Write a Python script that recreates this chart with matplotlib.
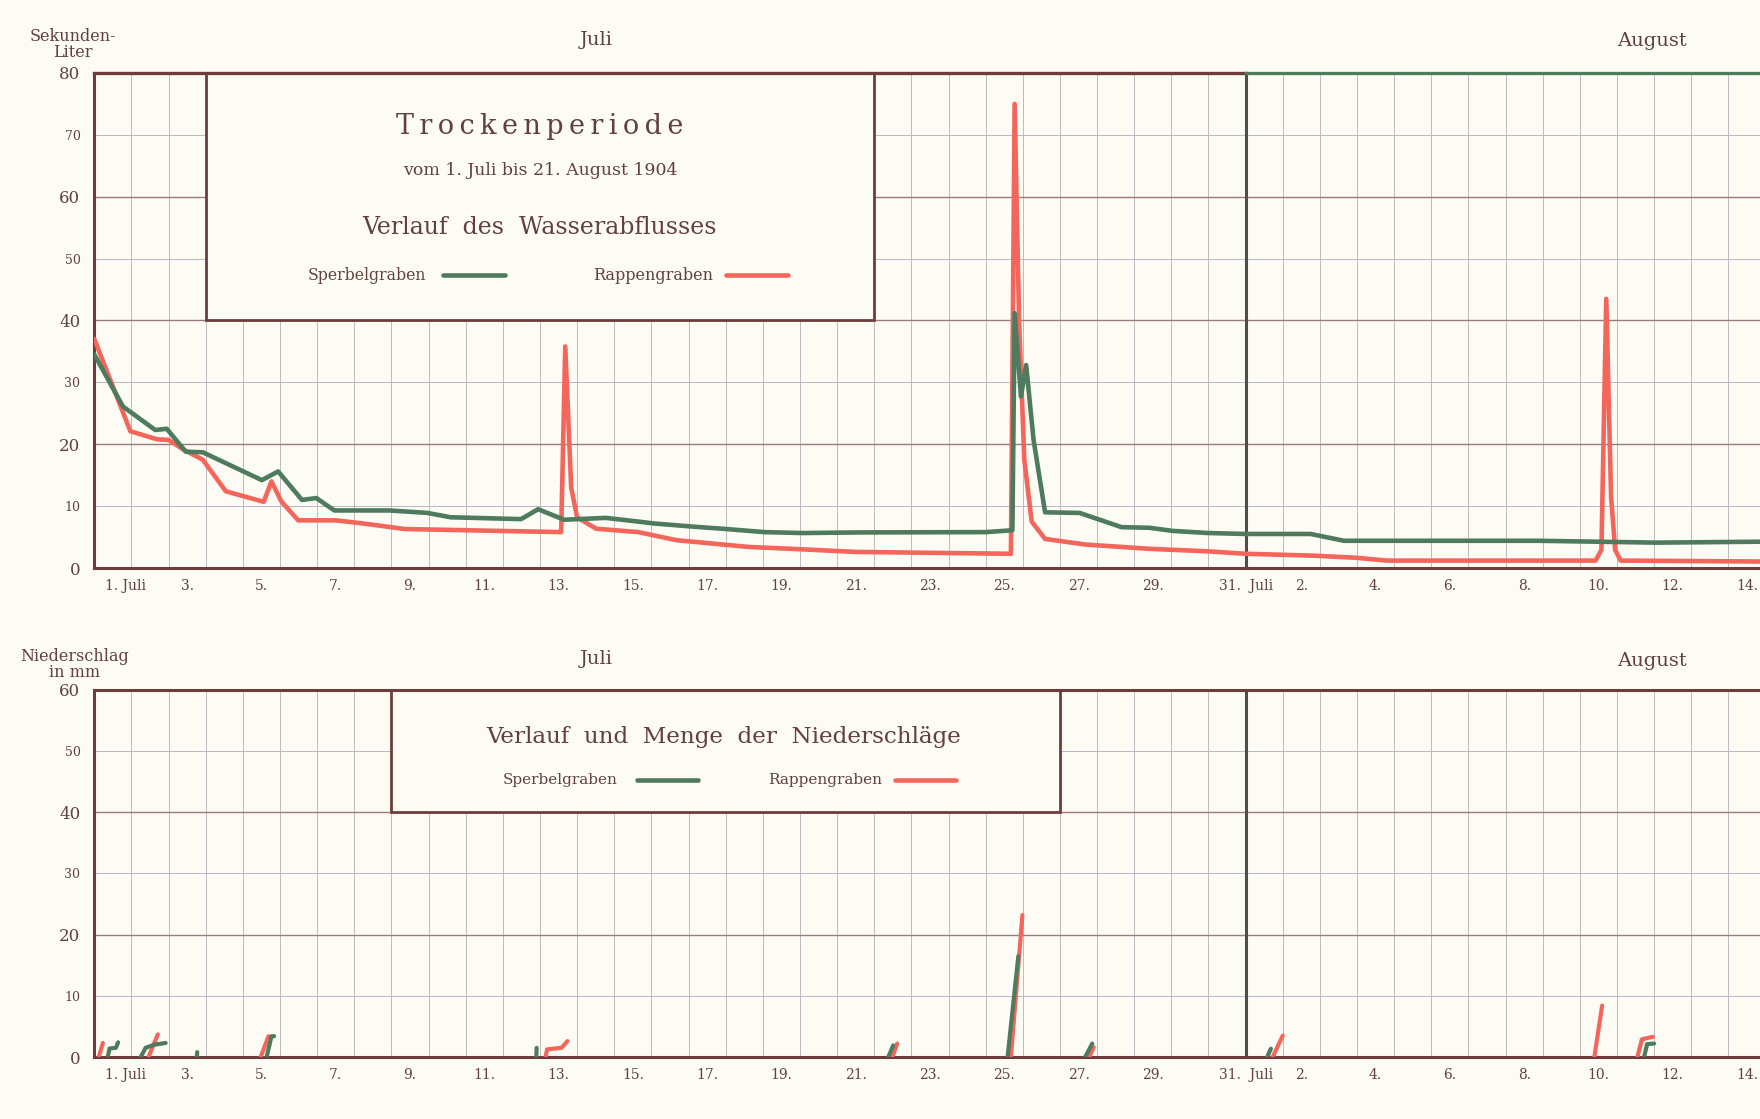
import matplotlib.pyplot as plt
from matplotlib.patches import Rectangle

# x = Tage seit 1. Juli 0 Uhr (31 = 1. August 0 Uhr)
sperbel_abfluss_tag = [0.0, 0.77, 1.64, 1.95, 2.46, 2.92, 4.51, 4.95, 5.59, 5.98, 6.46,
                       7.95, 8.97, 9.59, 11.49, 11.95, 12.65, 13.77, 14.65, 15.06, 16.09,
                       17.01, 18.04, 19.07, 20.61, 24.01, 24.72, 24.78, 24.95, 25.09,
                       25.29, 25.6, 26.53, 27.66, 28.41, 29.03, 29.97, 31.0, 32.75, 33.65,
                       38.9, 42.05, 44.85]
sperbel_abfluss_wert = [34.5, 26.1, 22.3, 22.5, 18.8, 18.7, 14.2, 15.6, 11.0, 11.3, 9.3,
                        9.3, 8.9, 8.2, 7.9, 9.5, 7.8, 8.1, 7.5, 7.2, 6.7,
                        6.3, 5.8, 5.65, 5.75, 5.8, 6.1, 41.2, 27.7, 32.8,
                        20.7, 9.0, 8.9, 6.6, 6.5, 6.0, 5.66, 5.5, 5.5, 4.4,
                        4.4, 4.1, 4.25]

rappen_abfluss_tag = [0.0, 0.97, 1.69, 2.0, 2.41, 2.92, 3.54, 4.56, 4.77, 5.03, 5.49,
                      6.51, 7.23, 8.36, 12.57, 12.68, 12.84, 13.0, 13.51, 14.65, 15.67,
                      17.63, 18.76, 20.51, 24.68, 24.78, 24.9, 25.04, 25.24, 25.6, 26.68,
                      28.41, 29.97, 31.0, 32.8, 33.96, 34.8, 40.42, 40.58, 40.71, 40.84,
                      40.95, 41.1, 44.85]
rappen_abfluss_wert = [37.0, 22.1, 20.8, 20.7, 19.1, 17.5, 12.4, 10.7, 14.0, 10.8, 7.7,
                       7.7, 7.2, 6.3, 5.8, 35.8, 13.0, 8.2, 6.35, 5.8, 4.5,
                       3.4, 3.1, 2.6, 2.3, 75.0, 40.0, 17.5, 7.5, 4.7, 3.8,
                       3.1, 2.7, 2.3, 2.0, 1.66, 1.2, 1.2, 2.9, 43.5, 11.5,
                       2.9, 1.2, 1.05]

# Niederschlag in mm, je Ereignis eine kurze Summenlinie
sperbel_regen_tag = [[0.36, 0.41, 0.58, 0.64], [1.25, 1.38, 1.61, 1.92], [2.76, 2.77],
                     [4.64, 4.77, 4.84], [11.9, 11.91], [21.38, 21.51], [24.59, 24.88],
                     [26.68, 26.87], [31.58, 31.68], [41.73, 41.81, 42.0]]
sperbel_regen_mm = [[0, 1.4, 1.5, 2.4], [0, 1.5, 2.0, 2.3], [0, 0.8],
                    [0, 3.4, 3.4], [0, 1.5], [0, 1.9], [0, 16.5],
                    [0, 2.2], [0, 1.35], [0, 2.1, 2.2]]
rappen_regen_tag = [[0.12, 0.23], [1.46, 1.71], [4.48, 4.69], [12.15, 12.19, 12.58, 12.74],
                    [21.49, 21.62], [24.68, 24.99], [26.79, 26.91], [31.73, 32.0],
                    [40.39, 40.6], [41.55, 41.67, 41.97]]
rappen_regen_mm = [[0, 2.3], [0, 3.7], [0, 3.4], [0, 1.25, 1.5, 2.6],
                   [0, 2.2], [0, 23.2], [0, 1.6], [0, 3.5],
                   [0, 8.4], [0, 2.9, 3.3]]

tag_pos = [0.85, 2.5, 4.5, 6.5, 8.5, 10.5, 12.5, 14.5, 16.5, 18.5, 20.5, 22.5, 24.5,
           26.5, 28.5, 31.0, 32.5, 34.5, 36.5, 38.5, 40.5, 42.5, 44.5]
tag_labels = ["1. Juli", "3.", "5.", "7.", "9.", "11.", "13.", "15.", "17.", "19.",
              "21.", "23.", "25.", "27.", "29.", "31.  Juli", "2.", "4.", "6.", "8.",
              "10.", "12.", "14."]

bg = "#fdfcf4"
braun = "#6e3c3c"
text_col = "#633f3f"
gruen = "#4e7a5e"
rot = "#f4655c"
grid_col = "#bcb4bf"
serif = ["DejaVu Serif"]

plt.rcParams["font.family"] = serif

fig = plt.figure(figsize=(17.6, 11.19), dpi=100, facecolor=bg)
ax1 = fig.add_axes([0.0536, 0.4924, 0.9464, 0.4424])
ax2 = fig.add_axes([0.0536, 0.0554, 0.9464, 0.3280])


def style_axis(ax, ymax):
    ax.set_facecolor(bg)
    ax.set_xlim(0, 44.85)
    ax.set_ylim(0, ymax)
    for k in range(1, 45):
        ax.axvline(k, color=grid_col, lw=0.65, zorder=1)
    for v in range(10, ymax, 10):
        if v % 20 == 0:
            ax.axhline(v, color="#9a7a7a", lw=1.0, zorder=1)
        else:
            ax.axhline(v, color="#b9b5c8", lw=0.7, zorder=1)
    ax.axvline(31, color="#4c4f46", lw=2.2, zorder=2)
    for s in ["left", "bottom", "top"]:
        ax.spines[s].set_color(braun)
        ax.spines[s].set_linewidth(2.2)
    ax.spines["right"].set_visible(False)
    ax.set_xticks(tag_pos, tag_labels)
    ax.tick_params(axis="x", length=0, pad=8, labelsize=10, labelcolor=text_col)
    ticks = list(range(0, ymax + 1, 10))
    ax.set_yticks(ticks, [str(t) for t in ticks])
    ax.tick_params(axis="y", length=0, pad=10, labelcolor=text_col)
    for t, lab in zip(ticks, ax.get_yticklabels()):
        lab.set_fontsize(12 if t % 20 == 0 else 9)


style_axis(ax1, 80)
style_axis(ax2, 60)
ax1.spines["top"].set_visible(False)
ax1.plot([0, 31], [80, 80], color=braun, lw=2.4, zorder=5, clip_on=False)
ax1.plot([31, 44.85], [80, 80], color=gruen, lw=2.4, zorder=5, clip_on=False)

# Abfluss
ax1.plot(sperbel_abfluss_tag, sperbel_abfluss_wert, color=gruen, lw=3.3, zorder=4,
         solid_joinstyle="round", solid_capstyle="round")
ax1.plot(rappen_abfluss_tag, rappen_abfluss_wert, color=rot, lw=3.3, zorder=3,
         solid_joinstyle="round", solid_capstyle="round")

# Niederschlag
for t, v in zip(rappen_regen_tag, rappen_regen_mm):
    ax2.plot(t, v, color=rot, lw=3.0, zorder=3, solid_capstyle="round")
for t, v in zip(sperbel_regen_tag, sperbel_regen_mm):
    ax2.plot(t, v, color=gruen, lw=3.0, zorder=4, solid_capstyle="round")

# Titelkasten oben
ax1.add_patch(Rectangle((3, 40), 18, 40, facecolor=bg, edgecolor=braun, lw=2.0, zorder=2.5))
ax1.text(12, 71.3, "\u2009".join("Trockenperiode"), ha="center", va="center", fontsize=19.5,
         color=text_col, zorder=6)
ax1.text(12, 64.2, "vom 1. Juli bis 21. August 1904", ha="center", va="center",
         fontsize=12.5, color=text_col, zorder=6)
ax1.text(12, 55.1, "Verlauf  des  Wasserabflusses", ha="center", va="center",
         fontsize=17, color=text_col, zorder=6)
ax1.text(8.94, 47.3, "Sperbelgraben", ha="right", va="center", fontsize=11.3,
         color=text_col, zorder=6)
ax1.plot([9.4, 11.06], [47.3, 47.3], color=gruen, lw=3.3, solid_capstyle="round", zorder=6)
ax1.text(16.65, 47.3, "Rappengraben", ha="right", va="center", fontsize=11.5,
         color=text_col, zorder=6)
ax1.plot([17.0, 18.67], [47.3, 47.3], color=rot, lw=3.3, solid_capstyle="round", zorder=6)

# Titelkasten unten
ax2.add_patch(Rectangle((8, 40), 18, 20, facecolor=bg, edgecolor=braun, lw=2.0, zorder=2.5))
ax2.text(16.95, 52.3, "Verlauf  und  Menge  der  Niederschläge", ha="center", va="center",
         fontsize=16.6, color=text_col, zorder=6)
ax2.text(14.08, 45.3, "Sperbelgraben", ha="right", va="center", fontsize=11,
         color=text_col, zorder=6)
ax2.plot([14.62, 16.25], [45.3, 45.3], color=gruen, lw=3.3, solid_capstyle="round", zorder=6)
ax2.text(21.2, 45.3, "Rappengraben", ha="right", va="center", fontsize=11,
         color=text_col, zorder=6)
ax2.plot([21.57, 23.2], [45.3, 45.3], color=rot, lw=3.3, solid_capstyle="round", zorder=6)

# Monatsnamen
for ax, off in [(ax1, 24), (ax2, 22)]:
    ax.annotate("Juli", xy=(13.5, 1.0), xycoords=("data", "axes fraction"),
                xytext=(0, off), textcoords="offset points", ha="center", va="center",
                fontsize=14, color=text_col)
    ax.annotate("August", xy=(41.95, 1.0), xycoords=("data", "axes fraction"),
                xytext=(0, off - 1), textcoords="offset points", ha="center", va="center",
                fontsize=14, color=text_col)

fig.text(0.0415, 0.960, "Sekunden-\nLiter", ha="center", va="center", fontsize=11.5,
         color=text_col, linespacing=0.95)
fig.text(0.0425, 0.406, "Niederschlag\nin mm", ha="center", va="center", fontsize=11.5,
         color=text_col, linespacing=0.95)

fig.savefig("out.png", dpi=100, facecolor=bg)
